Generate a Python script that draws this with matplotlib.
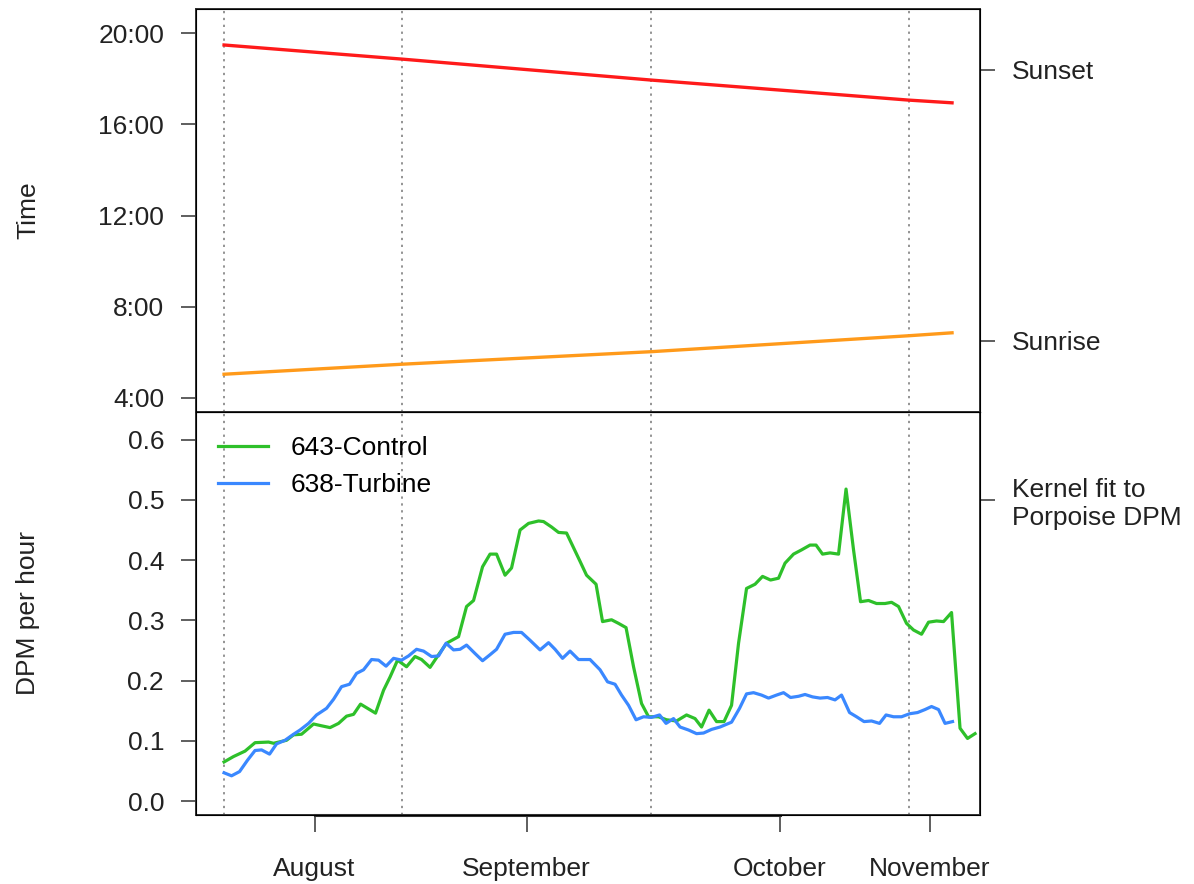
import matplotlib.pyplot as plt

plt.rcParams["font.family"] = ["Liberation Sans", "DejaVu Sans"]
plt.rcParams["font.size"] = 19

# days since start of the deployment
day_green = [0, 1.9, 4.2, 6.2, 8.9, 9.9, 12.5, 13.9, 15.5, 17.9, 19.5, 21.2,
             22.9, 24.5, 25.9, 27.3, 28.9, 30.3, 31.9, 33.2, 34.7, 36.5, 38.2,
             39.5, 41.2, 42.9, 44.5, 46.9, 48.5, 49.9, 51.7, 53.2, 54.5, 56.2,
             57.5, 59.2, 60.9, 62.9, 63.9, 65.5, 66.9, 68.5, 71.2, 72.5, 74.4,
             75.7, 77.5, 78.9, 80.4, 81.9, 83.5, 84.9, 86.9, 88.5, 90.5, 92.5,
             94.2, 95.5, 97.0, 98.5, 100.0, 101.5, 102.9, 104.5, 106.2, 107.7,
             109.3, 110.9, 112.2, 113.9, 115.5, 117.2, 118.4, 119.7, 121.2,
             122.9, 124.4, 125.9, 127.3, 128.9, 130.5, 132.2, 133.5, 134.9,
             136.5, 137.9, 139.5, 140.9, 142.5, 143.9, 145.5, 147.2, 148.7,
             150.2]
dpm_green = [0.065, 0.074, 0.083, 0.097, 0.098, 0.096, 0.101, 0.110, 0.111,
             0.128, 0.125, 0.122, 0.129, 0.141, 0.144, 0.161, 0.153, 0.146,
             0.184, 0.206, 0.234, 0.223, 0.240, 0.235, 0.222, 0.243, 0.262,
             0.273, 0.323, 0.333, 0.389, 0.410, 0.410, 0.375, 0.387, 0.450,
             0.461, 0.465, 0.464, 0.455, 0.446, 0.445, 0.398, 0.375, 0.360,
             0.298, 0.301, 0.295, 0.288, 0.223, 0.162, 0.140, 0.140, 0.135,
             0.133, 0.143, 0.137, 0.123, 0.151, 0.132, 0.132, 0.159, 0.262,
             0.353, 0.360, 0.373, 0.367, 0.370, 0.395, 0.410, 0.417, 0.425,
             0.425, 0.410, 0.412, 0.410, 0.518, 0.417, 0.331, 0.333, 0.328,
             0.328, 0.330, 0.323, 0.295, 0.284, 0.277, 0.297, 0.299, 0.298,
             0.313, 0.121, 0.104, 0.112]

day_blue = [0, 1.5, 3.1, 4.7, 6.2, 7.5, 9.1, 10.5, 12.2, 13.9, 15.2, 16.9,
            18.5, 20.5, 21.9, 23.5, 25.1, 26.5, 27.9, 29.5, 30.9, 32.4, 33.9,
            35.5, 36.9, 38.5, 39.9, 41.5, 42.9, 44.4, 45.9, 47.2, 48.5, 50.2,
            51.7, 53.2, 54.5, 56.2, 57.9, 59.5, 61.2, 63.2, 64.9, 66.2, 67.7,
            69.2, 70.9, 73.2, 75.2, 76.7, 78.2, 79.5, 80.9, 82.4, 83.9, 85.5,
            87.1, 88.4, 89.9, 91.2, 92.9, 94.5, 95.9, 97.5, 99.2, 101.5, 103.1,
            104.5, 105.9, 107.5, 108.9, 110.5, 111.9, 113.3, 114.9, 116.2,
            117.7, 119.2, 120.7, 122.2, 123.5, 125.1, 126.5, 128.0, 129.5,
            131.1, 132.4, 133.9, 135.5, 137.1, 138.7, 140.2, 141.5, 142.9,
            144.2, 145.7]
dpm_blue = [0.047, 0.042, 0.049, 0.068, 0.084, 0.085, 0.078, 0.095, 0.101,
            0.111, 0.118, 0.129, 0.143, 0.154, 0.169, 0.190, 0.194, 0.212,
            0.218, 0.235, 0.234, 0.224, 0.237, 0.234, 0.241, 0.252, 0.249,
            0.240, 0.241, 0.262, 0.251, 0.252, 0.259, 0.245, 0.233, 0.243,
            0.252, 0.277, 0.280, 0.280, 0.267, 0.251, 0.263, 0.252, 0.237,
            0.249, 0.235, 0.235, 0.218, 0.198, 0.194, 0.176, 0.159, 0.135,
            0.140, 0.139, 0.143, 0.129, 0.137, 0.123, 0.118, 0.112, 0.113,
            0.119, 0.123, 0.131, 0.154, 0.178, 0.180, 0.176, 0.171, 0.176,
            0.180, 0.172, 0.174, 0.177, 0.173, 0.171, 0.172, 0.168, 0.176,
            0.147, 0.140, 0.132, 0.133, 0.129, 0.143, 0.140, 0.140, 0.145,
            0.147, 0.152, 0.157, 0.152, 0.129, 0.132]

sun_days = [0, 35.6, 85.4, 136.9, 145.6]
sunset_hours = [19.49, 18.87, 17.95, 17.07, 16.95]
sunrise_hours = [5.03, 5.47, 6.02, 6.72, 6.85]

deploy_days = [0, 35.6, 85.4, 136.9]
month_days = [18.1, 60.5, 111.1, 141.2]
month_labels = ["August", "September", "October", "November"]

time_ticks = [4, 8, 12, 16, 20]
time_labels = ["4:00", "8:00", "12:00", "16:00", "20:00"]
dpm_ticks = [0.0, 0.1, 0.2, 0.3, 0.4, 0.5, 0.6]

XLIM = (-5.6, 151.2)
SPINE = "#333333"
TEXT = "#222222"

fig = plt.figure(figsize=(11.94, 8.84), dpi=100)
ax_top = fig.add_axes([0.1642, 0.5339, 0.6566, 0.4559])
ax_bot = fig.add_axes([0.1642, 0.0781, 0.6566, 0.4559])

for ax in (ax_top, ax_bot):
    ax.set_xlim(*XLIM)
    for s in ax.spines.values():
        s.set_color(SPINE)
        s.set_linewidth(1.4)
    for d in deploy_days:
        ax.axvline(d, color="#777777", linestyle=(0, (1.5, 3)), linewidth=1.1)
    ax.tick_params(axis="y", length=11, width=1.1, pad=12, colors=SPINE,
                   labelcolor=TEXT)

# top panel: sunrise / sunset
ax_top.plot(sun_days, sunset_hours, color="#ff1a1a", linewidth=2.4)
ax_top.plot(sun_days, sunrise_hours, color="#ff9a1a", linewidth=2.4)
ax_top.set_ylim(3.37, 21.07)
ax_top.set_yticks(time_ticks)
ax_top.set_yticklabels(time_labels)
ax_top.set_xticks([])

r_top = ax_top.twinx()
r_top.set_ylim(ax_top.get_ylim())
r_top.set_yticks([18.4, 6.5])
r_top.set_yticklabels(["Sunset", "Sunrise"])
r_top.tick_params(axis="y", length=11, width=1.1, pad=12, colors=SPINE,
                  labelcolor=TEXT)

# bottom panel: porpoise detections
ax_bot.plot(day_green, dpm_green, color="#2ec02a", linewidth=2.3,
            label="643-Control")
ax_bot.plot(day_blue, dpm_blue, color="#3a88ff", linewidth=2.3,
            label="638-Turbine")
ax_bot.set_ylim(-0.023, 0.646)
ax_bot.set_yticks(dpm_ticks)
ax_bot.set_yticklabels([f"{v:.1f}" for v in dpm_ticks])
ax_bot.legend(loc="upper left", frameon=False, handlelength=1.9,
              handletextpad=0.85, borderaxespad=0, borderpad=0,
              labelspacing=0.5, bbox_to_anchor=(0.028, 0.94))

r_bot = ax_bot.twinx()
r_bot.set_ylim(ax_bot.get_ylim())
r_bot.set_yticks([0.5])
r_bot.set_yticklabels(["Kernel fit to\nPorpoise DPM"])
r_bot.tick_params(axis="y", length=11, width=1.1, pad=12, colors=SPINE,
                  labelcolor=TEXT)

ax_bot.set_xticks(month_days)
ax_bot.set_xticklabels(month_labels)
ax_bot.tick_params(axis="x", length=12, width=1.1, pad=18, colors=SPINE,
                   labelcolor=TEXT)
ax_bot.plot([month_days[0], month_days[2]], [0, 0], color=SPINE, linewidth=2.2,
            transform=ax_bot.get_xaxis_transform(), clip_on=False)

fig.text(28 / 1194, 0.7618, "Time", rotation=90, ha="center", va="center",
         color=TEXT)
fig.text(28 / 1194, 0.3061, "DPM per hour", rotation=90, ha="center",
         va="center", color=TEXT)

fig.savefig("out.png", dpi=100)
